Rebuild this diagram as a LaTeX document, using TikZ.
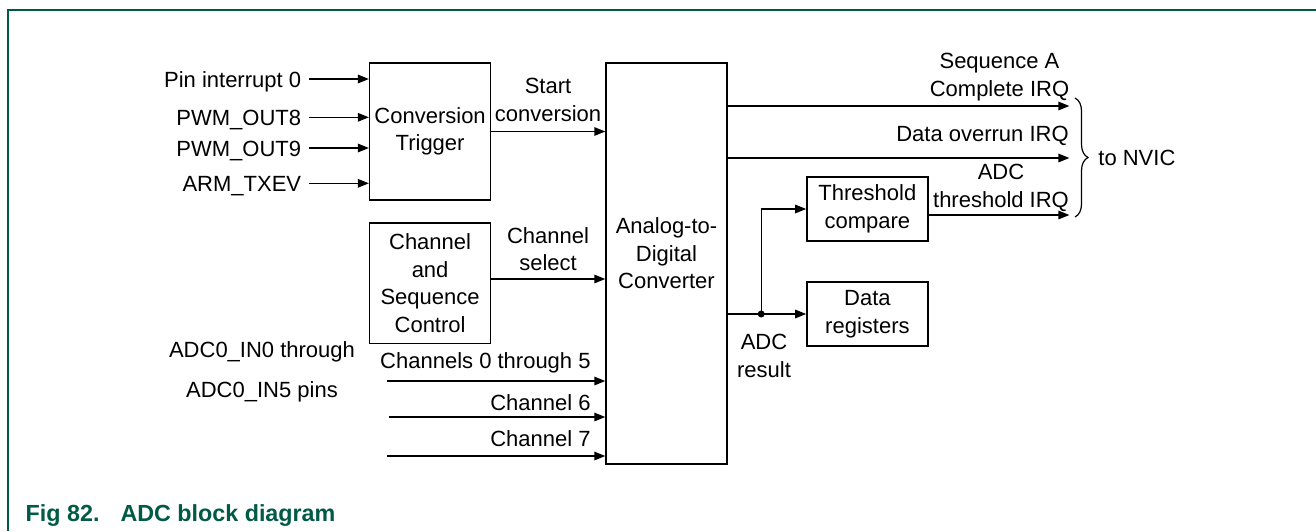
\documentclass[tikz,border=0pt]{standalone}
\usepackage{fontspec}
\setmainfont{Liberation Sans}
\usetikzlibrary{arrows.meta, decorations.pathreplacing}
\definecolor{nxpgreen}{HTML}{005A46}

\begin{document}
\begin{tikzpicture}[
    x=1pt, y=-1pt,
    line width=1.4pt,
    font=\fontsize{22}{27.5}\selectfont,
    block/.style={rectangle, draw=black, inner sep=0pt, align=center, minimum width=121pt},
    sig/.style={draw, -{Triangle[length=11pt, width=8.5pt]}},
    pinlbl/.style={anchor=east, text height=16pt, text depth=0pt, inner sep=7.5pt},
    chlbl/.style={anchor=base east, inner sep=0pt},
    txt/.style={align=center, inner sep=0pt}
]
\useasboundingbox (0,0) rectangle (1316,531);

% --- Рамка и подпись ---
\draw[nxpgreen, line width=1.5pt] (1316,10) -- (8,10) -- (8,531);
\node[anchor=base west, inner sep=0pt, text=nxpgreen, font=\bfseries\fontsize{23.3}{28}\selectfont] (cap) at (25,521.7) {Fig 82.\hspace{21pt}ADC block diagram};

% --- Блоки ---
\node[block, minimum height=137pt] (trig) at (430.1,131.5) {Conversion\\Trigger};
\node[block, minimum height=120.5pt] (ctrl) at (430.1,283.2) {Channel\\and\\Sequence\\Control};
\node[block, minimum height=401pt] (adc) at (666.5,263.5) {};
\node[txt] (adctxt) at (666.5,253.3) {Analog-to-\\Digital\\Converter};
\node[block, minimum height=64pt] (thr) at (867.4,209) {Threshold\\compare};
\node[block, minimum height=64pt] (dreg) at (867.4,314) {Data\\registers};

% --- Входы запуска ---
\node[pinlbl] (pin0) at (309.3,79) {Pin interrupt 0};
\node[pinlbl] (pwm8) at (309.3,117.3) {PWM\_OUT8};
\node[pinlbl] (pwm9) at (309.3,148) {PWM\_OUT9};
\node[pinlbl] (txev) at (309.3,183.3) {ARM\_TXEV};
\foreach \p in {pin0, pwm8, pwm9, txev}
    \draw[sig] (\p) -- (\p -| trig.west);

% --- Запуск и выбор канала ---
\draw[sig] (trig.east) -- (trig.east -| adc.west);
\node[txt] (start) at (548,100) {Start\\conversion};
\draw[sig] ([yshift=4.2pt]ctrl.east) -- ([yshift=4.2pt]ctrl.east -| adc.west);
\node[txt] (chsel) at (548,249) {Channel\\select};

% --- Аналоговые входы ---
\node[txt] (pins) at (262,372.3) {ADC0\_IN0 through\\[12.5pt]ADC0\_IN5 pins};
\coordinate (ch05) at (387,381);
\coordinate (ch6) at (388.5,417);
\coordinate (ch7) at (387,456);
\foreach \c in {ch05, ch6, ch7}
    \draw[sig] (\c) -- (\c -| adc.west);
\node[chlbl] (ch05lbl) at (591.3,368.3) {Channels 0 through 5};
\node[chlbl] (ch6lbl) at (591.3,410) {Channel 6};
\node[chlbl] (ch7lbl) at (591.3,446.7) {Channel 7};

% --- Прерывания ---
\coordinate (irqa) at (1069.4,106);
\coordinate (irqov) at (1069.4,158);
\coordinate (irqthr) at (1069.4,215);
\draw[sig] (adc.east |- irqa) -- (irqa);
\draw[sig] (adc.east |- irqov) -- (irqov);
\draw[sig] (thr.east |- irqthr) -- (irqthr);
\node[txt] (lbla) at (999.5,77.3) {Sequence A\\Complete IRQ};
\node[chlbl] (lblov) at (1069.4,141.7) {Data overrun IRQ};
\node[txt] (lblthr) at (1001,188) {ADC\\threshold IRQ};
\draw[decorate, decoration={brace, amplitude=13pt}, line width=1.2pt] (1075,98) -- (1075,217);
\node[anchor=base west, inner sep=0pt] (nvic) at (1097.7,165) {to NVIC};

% --- Результат АЦП ---
\coordinate (res) at (761.2,314);
\draw[sig] (adc.east |- res) -- (dreg.west);
\fill (res) circle[radius=3.5pt];
\draw[sig] (res) |- (thr.west);
\node[txt] (adcres) at (764,356) {ADC\\result};
\end{tikzpicture}
\end{document}
